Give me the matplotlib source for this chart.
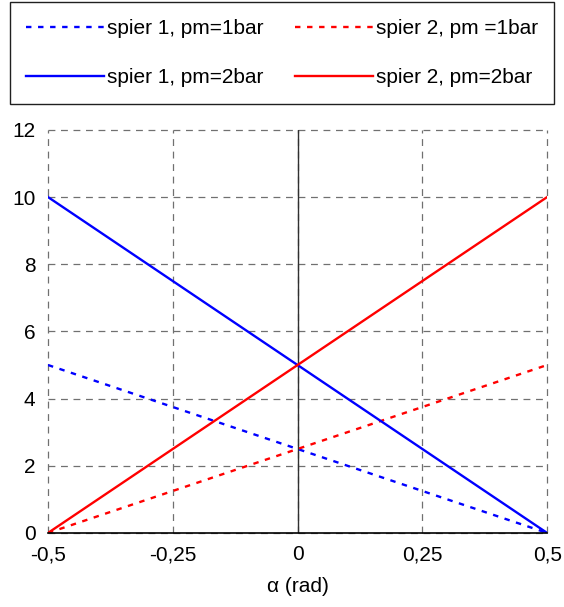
import matplotlib.pyplot as plt
from matplotlib.ticker import FuncFormatter

plt.rcParams['font.family'] = ['Liberation Sans', 'DejaVu Sans']

#----- DATA --------------------------------------------------------
alpha = [-0.5, 0.0, 0.5]
spier1_pm1 = [5.0, 2.5, 0.0]
spier1_pm2 = [10.0, 5.0, 0.0]
spier2_pm1 = [0.0, 2.5, 5.0]
spier2_pm2 = [0.0, 5.0, 10.0]

x_ticks = [-0.5, -0.25, 0.0, 0.25, 0.5]
y_ticks = [0, 2, 4, 6, 8, 10, 12]

#----- FIGURE ------------------------------------------------------
fig = plt.figure(figsize=(5.64, 6.07), dpi=100)
ax = fig.add_axes([0.0851, 0.122, 0.885, 0.664])

dash = (0, (2.3, 2.8))
l1, = ax.plot(alpha, spier1_pm1, color='#0000ff', lw=1.7, ls=dash)
l2, = ax.plot(alpha, spier2_pm1, color='#ff0000', lw=1.7, ls=dash)
l3, = ax.plot(alpha, spier1_pm2, color='#0000ff', lw=1.7)
l4, = ax.plot(alpha, spier2_pm2, color='#ff0000', lw=1.7)

ax.set_xlim(-0.5, 0.5)
ax.set_ylim(0, 12)
ax.set_xticks(x_ticks)
ax.set_yticks(y_ticks)

def comma_fmt(v, pos):
    s = ('%g' % v).replace('.', ',')
    return '0' if s in ('-0', '0') else s

ax.xaxis.set_major_formatter(FuncFormatter(comma_fmt))
ax.tick_params(length=0, labelsize=15, pad=9)

# dashed grid on every tick, including the plot borders
ax.grid(True, color='#707070', ls=(0, (5.5, 4.5)), lw=0.9)
ax.set_axisbelow(True)
for gl in ax.get_xgridlines() + ax.get_ygridlines():
    gl.set_clip_on(False)
for side in ['top', 'right', 'left']:
    ax.spines[side].set_visible(False)
ax.spines['bottom'].set_linewidth(1.2)
ax.spines['bottom'].set_zorder(3)
ax.axvline(0, color='#303030', lw=1.0, zorder=1.5)

ax.set_xlabel('α (rad)', fontsize=15, labelpad=9)

#----- LEGEND ------------------------------------------------------
# legend fills column-wise, so order handles to read row by row
leg = fig.legend([l1, l3, l2, l4],
                 ['spier 1, pm=1bar', 'spier 1, pm=2bar',
                  'spier 2, pm =1bar', 'spier 2, pm=2bar'],
                 ncol=2, loc='center', bbox_to_anchor=(0.5, 0.9127),
                 fontsize=15, handlelength=3.75, handletextpad=0.1,
                 labelspacing=1.45, columnspacing=1.55, borderpad=0.8,
                 fancybox=False, framealpha=1)
leg.get_frame().set_edgecolor('#202020')
leg.get_frame().set_linewidth(1.0)

fig.savefig('out.png', dpi=100)
